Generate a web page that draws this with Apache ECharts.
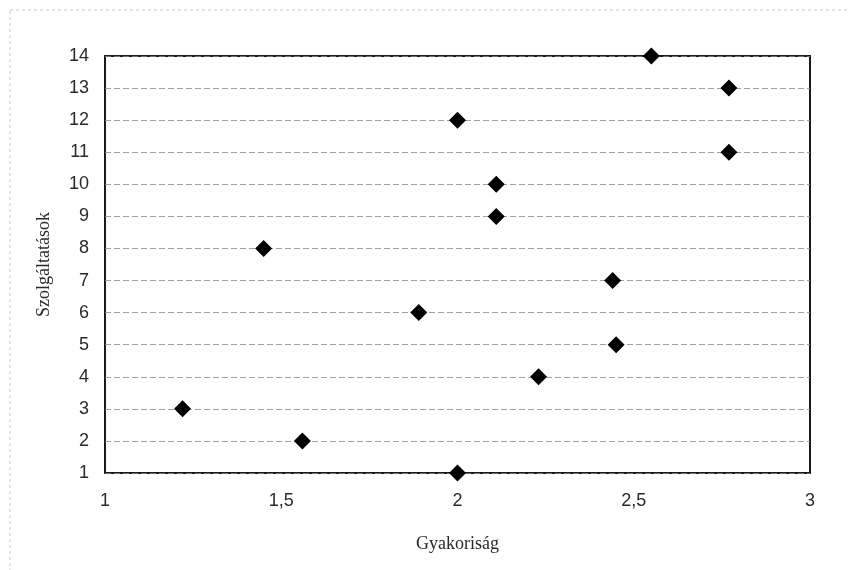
<!DOCTYPE html>
<html><head><meta charset="utf-8">
<script src="https://cdn.jsdelivr.net/npm/echarts@6/dist/echarts.min.js"></script>
<style>html,body{margin:0;padding:0;background:#fff}#c{width:849px;height:570px}</style>
</head><body><div id="c"></div>
<script>
const services = [1,2,3,4,5,6,7,8,9,10,11,12,13,14];
const frequency = [2.0,1.56,1.22,2.23,2.45,1.89,2.44,1.45,2.11,2.11,2.77,2.0,2.77,2.55];
const xTicks = {min:1, max:3, step:0.5};
const yTicks = {min:1, max:14, step:1};
const xTitle = 'Gyakoriság';
const yTitle = 'Szolgáltatások';

const chart = echarts.init(document.getElementById('c'));
chart.setOption({
  animation:false,
  backgroundColor:'#fff',
  graphic:[{type:'rect', shape:{x:10,y:10,width:850,height:580}, style:{fill:'none', stroke:'#c8c8c8', lineWidth:1, lineDash:[3,3]}, silent:true}],
  grid:{left:105, right:39, top:56, bottom:97, show:true, borderColor:'#1a1a1a', borderWidth:2, backgroundColor:'transparent'},
  xAxis:{type:'value', min:xTicks.min, max:xTicks.max, interval:xTicks.step,
    axisLine:{show:false}, axisTick:{show:false}, splitLine:{show:false},
    axisLabel:{fontFamily:'Liberation Sans, Arial', fontSize:18, color:'#2a2a2a', margin:19,
      formatter:v=>String(v).replace('.',',')},
    name:xTitle, nameLocation:'middle', nameGap:62,
    nameTextStyle:{fontFamily:'Liberation Serif, Times New Roman', fontSize:18, color:'#2a2a2a'}},
  yAxis:{type:'value', min:yTicks.min, max:yTicks.max, interval:yTicks.step,
    axisLine:{show:false}, axisTick:{show:false},
    splitLine:{show:true, lineStyle:{color:'#888', type:[6,3], width:1, opacity:0.8}},
    axisLabel:{fontFamily:'Liberation Sans, Arial', fontSize:18, color:'#2a2a2a', margin:16},
    name:yTitle, nameLocation:'middle', nameGap:52,
    nameTextStyle:{fontFamily:'Liberation Serif, Times New Roman', fontSize:18, color:'#2a2a2a'}},
  series:[{type:'scatter', symbol:'diamond', symbolSize:17,
    itemStyle:{color:'#000', opacity:1},
    data: services.map((s,i)=>[frequency[i], s]), z:5}]
});
</script></body></html>
